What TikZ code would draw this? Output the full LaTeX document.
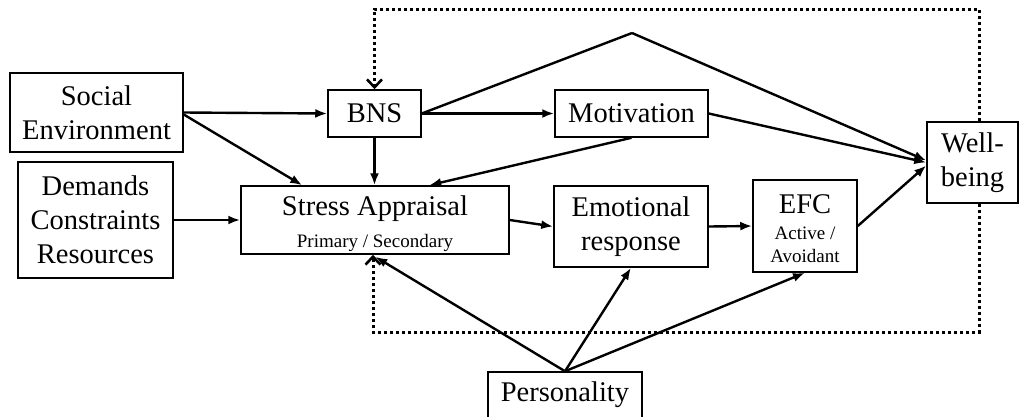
\documentclass[tikz,border=0pt]{standalone}
\usepackage{fontspec}
\setmainfont{Liberation Serif}
\usetikzlibrary{arrows.meta,calc}
\begin{document}
\begin{tikzpicture}[x=1pt,y=-1pt,
  box/.style={draw,line width=1.5pt,rectangle,inner sep=0pt,align=center,font=\fontsize{28.5}{34}\selectfont},
  txt/.style={inner sep=0pt,align=center,font=\fontsize{28.5}{34}\selectfont},
  conn/.style={line width=2.4pt,-{Latex[length=12pt,width=9pt]}},
  plain/.style={line width=2.4pt},
  fb/.style={line width=3pt,dash pattern=on 3pt off 3pt,-{Straight Barb[length=8pt,width=15pt,line width=2.6pt]}}]
\useasboundingbox (0,0) rectangle (1019,416);
\node[box,minimum width=173pt,minimum height=79pt] (soc) at (96.5,112.5) {Social\\Environment};
\node[box,minimum width=155pt,minimum height=116pt] (dem) at (95.5,220) {Demands\\Constraints\\Resources};
\node[box,minimum width=93pt,minimum height=47pt] (bns) at (374.5,113.5) {BNS};
\node[box,minimum width=153pt,minimum height=47pt] (mot) at (631.5,113.5) {Motivation};
\node[box,minimum width=268pt,minimum height=68pt] (sa) at (375,220) {};
\node[txt] (satext) at ($(sa.center)+(0,4)$) {Stress Appraisal\\[-2pt]{\fontsize{19}{23}\selectfont Primary / Secondary}};
\node[box,minimum width=154pt,minimum height=81pt] (er) at (631,226.5) {Emotional\\response};
\node[box,minimum width=104pt,minimum height=92pt] (efc) at (805,226) {};
\node[txt] (efctext) at ($(efc.center)+(0,3)$) {EFC\\[-8pt]{\fontsize{19}{23}\selectfont Active /}\\[-11pt]{\fontsize{19}{23}\selectfont Avoidant}};
\node[box,minimum width=91pt,minimum height=81pt] (wb) at (972.5,162.5) {Well-\\being};
\node[box,minimum width=154pt,minimum height=46pt] (per) at (565,395) {Personality};
\coordinate (peak) at (632,33);
\coordinate (w1) at ($(wb.west)+(0,-2)$);
\coordinate (w2) at ($(wb.west)+(0,0)$);
\coordinate (w3) at ($(wb.west)+(0,3)$);
\coordinate (tr) at (979,9);
\coordinate (br) at (979,332);
\coordinate (bl) at (373,332);
% connectors
\draw[conn] (soc.east) -- (bns.west);
\draw[conn] ($(soc.east)+(0,2)$) -- ($(sa.north west)+(62,0)$);
\draw[conn] (dem.east) -- (sa.west);
\draw[conn] (bns.south) -- (bns.south |- sa.north);
\draw[conn] (bns.east) -- (mot.west);
\draw[conn] (mot.south) -- ($(sa.north west)+(189,0)$);
\draw[plain] (bns.east) -- (peak);
\draw[conn] (peak) -- (w1);
\draw[conn] (mot.east) -- (w2);
\draw[conn] (sa.east) -- (er.west);
\draw[conn] (er.east) -- (efc.west);
\draw[conn] (efc.east) -- (w3);
\draw[conn] (per.north) -- ($(sa.south west)+(135,2)$);
\draw[conn] (per.north) -- (er.south);
\draw[conn] (per.north) -- (efc.south);
% feedback loops
\draw[fb] ($(wb.north)+(6.5,0)$) -- (tr) -- (tr -| bns.north) -- (bns.north);
\draw[fb] ($(wb.south)+(6.5,0)$) -- (br) -- (bl) -- (bl |- sa.south);
\end{tikzpicture}
\end{document}
